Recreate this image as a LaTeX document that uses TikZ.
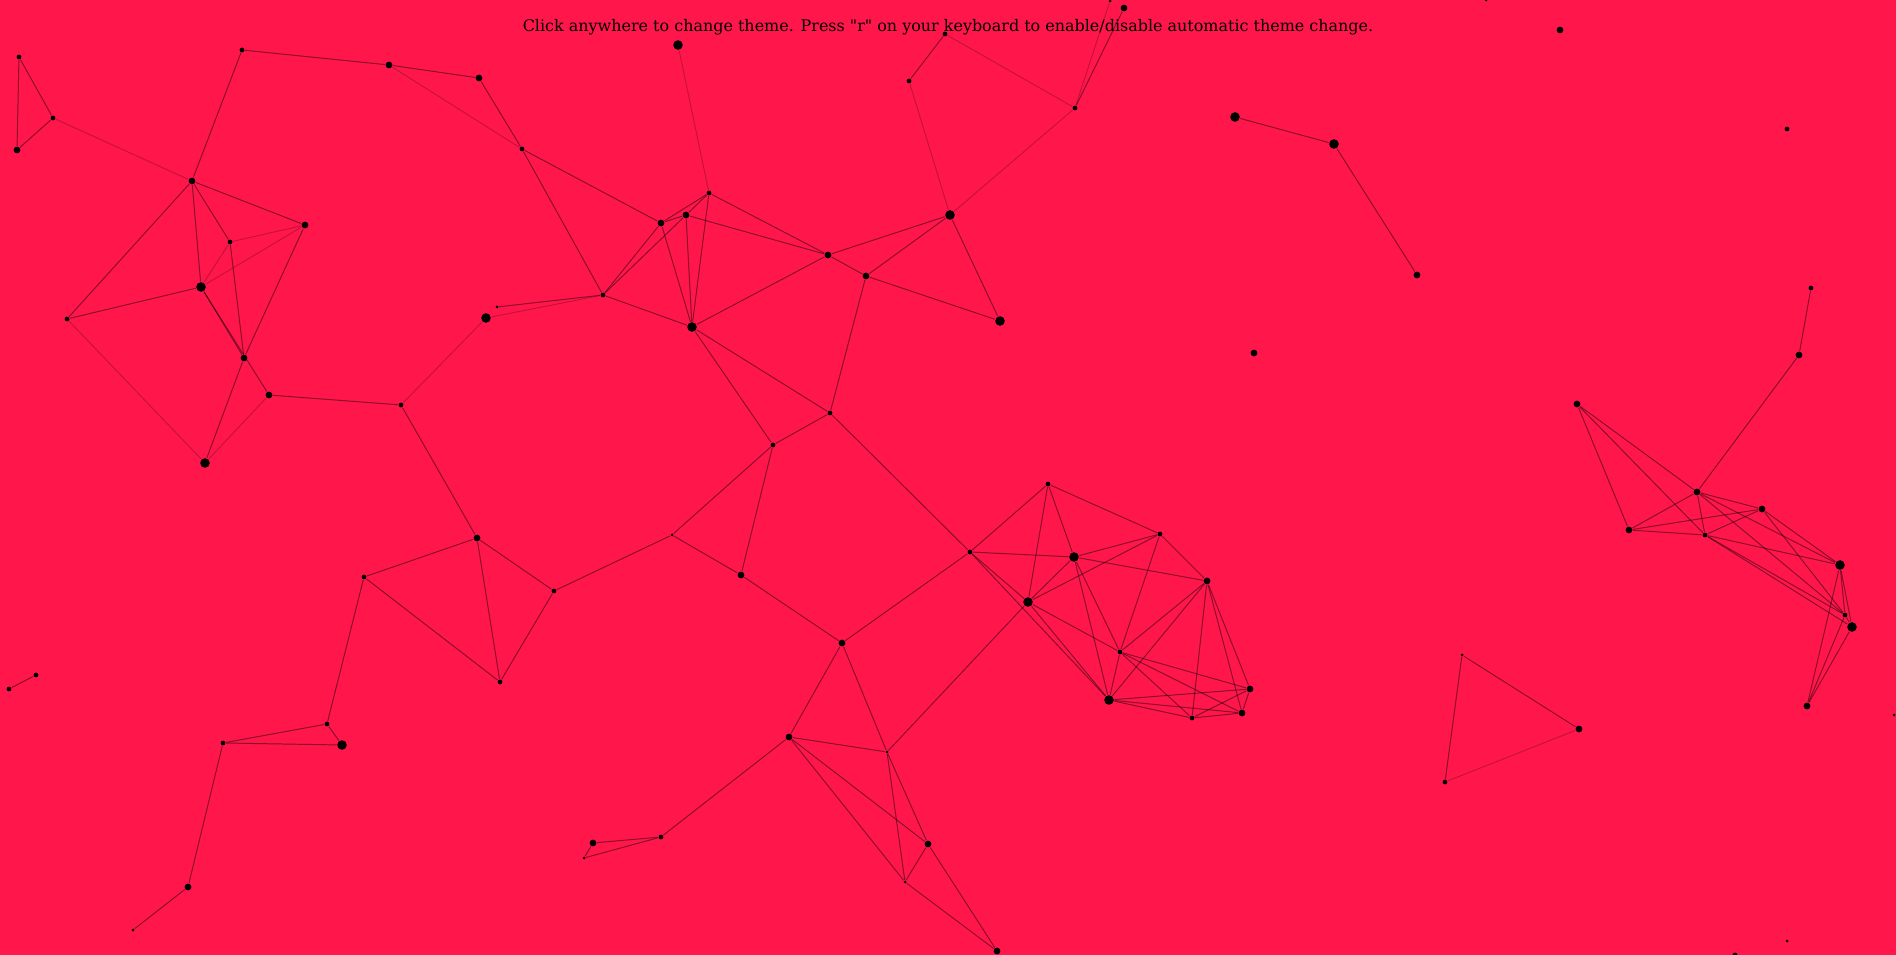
\documentclass[tikz,border=0pt]{standalone}
\usepackage{fontspec}
\usepackage{graphicx}
\usepackage{xcolor}
\usepackage{tikz}
\newfontfamily\notefont{DejaVu Serif}
\definecolor{themered}{RGB}{255,23,76}

\begin{document}
\begin{tikzpicture}[x=0.01cm,y=-0.01cm,
  tinydot/.style={circle,fill=black,inner sep=0pt,minimum size=0.03cm},
  smalldot/.style={circle,fill=black,inner sep=0pt,minimum size=0.048cm},
  middot/.style={circle,fill=black,inner sep=0pt,minimum size=0.068cm},
  bigdot/.style={circle,fill=black,inner sep=0pt,minimum size=0.096cm},
  link/.style={draw=black,draw opacity=0.45,line width=0.28pt},
  faintlink/.style={draw=black,draw opacity=0.22,line width=0.28pt}]
  % background
  \fill[themered] (0,0) rectangle (1896,955);
  \useasboundingbox (0,0) rectangle (1896,955);
  % particles
  \foreach \n/\x/\y in {n19/497/307, n34/1110/1, n43/1486/0, q1/1462/655, q5/1787/941,
      q6/1894/715, p4/672/535, p16/133/930, p18/887/752, p21/584/858, p23/905/882}
    \node[tinydot] (\n) at (\x,\y) {};
  \foreach \n/\x/\y in {n1/19/57, n2/53/118, n4/242/50, n8/522/149, n10/230/242,
      n12/67/319, n15/401/405, n20/603/295, n25/709/193, n30/909/81, n31/945/34,
      n32/1075/108, n37/830/413, n38/773/445, n44/1787/129, n45/1811/288,
      n51/1705/535, n53/1845/615, q3/1445/782, q4/1735/955, m1/1048/484,
      m2/970/552, m4/1160/534, m7/1120/652, m10/1192/718, p2/364/577, p3/554/591,
      p6/500/682, p10/36/675, p11/9/689, p12/327/724, p13/223/743, p19/661/837}
    \node[smalldot] (\n) at (\x,\y) {};
  \foreach \n/\x/\y in {n3/17/150, n5/192/181, n6/389/65, n7/479/78, n9/305/225,
      n13/244/358, n14/269/395, n17/477/538, n21/661/223, n22/686/215, n26/828/255,
      n27/866/276, n33/1124/8, n36/1254/353, n41/1417/275, n42/1560/30,
      n46/1799/355, n47/1577/404, n48/1697/492, n49/1762/509, n50/1629/530,
      n55/1807/706, n56/1579/729, m6/1207/581, m9/1250/689, m11/1242/713,
      p5/741/575, p7/842/643, p15/188/887, p17/789/737, p20/593/843, p22/928/844,
      p24/997/951}
    \node[middot] (\n) at (\x,\y) {};
  \foreach \n/\x/\y in {n11/201/287, n16/205/463, n18/486/318, n23/692/327,
      n24/678/45, n28/950/215, n29/1000/321, n35/1235/117, n40/1334/144,
      n52/1840/565, n54/1852/627, m3/1074/557, m5/1028/602, m8/1109/700, p14/342/745}
    \node[bigdot] (\n) at (\x,\y) {};
  % links
  \foreach \a/\b in {n1/n3, n1/n2, n2/n3, n4/n5, n4/n6, n6/n7, n7/n8, n5/n9,
      n5/n10, n5/n11, n5/n12, n10/n13, n11/n12, n11/n13, n11/n14, n9/n13, n13/n16,
      n14/n15, n15/n17, n19/n20, n8/n20, n8/n21, n20/n21, n20/n22, n20/n23,
      n21/n22, n21/n23, n22/n23, n25/n21, n25/n22, n25/n23, n25/n26, n22/n26,
      n23/n26, n23/n37, n23/n38, n26/n28, n26/n27, n27/n28, n27/n29, n28/n29,
      n27/n37, n37/n38, n37/m2, n30/n31, n32/n33, n35/n40, n40/n41}
    \draw[link] (\a) -- (\b);
  \foreach \a/\b in {n2/n5, n6/n8, n10/n9, n11/n9, n10/n11, n12/n16, n14/n16,
      n15/n18, n18/n20, n24/n25, n28/n30, n31/n32, n32/n28, n32/n34, n56/q3}
    \draw[faintlink] (\a) -- (\b);
  \foreach \a/\b in {m2/m1, m2/m3, m2/m5, m2/m8, m1/m3, m1/m5, m1/m4, m3/m4,
      m3/m5, m3/m6, m3/m7, m3/m8, m4/m5, m4/m6, m4/m7, m5/m7, m5/m8, m6/m7,
      m6/m8, m6/m9, m6/m10, m6/m11, m7/m8, m7/m9, m7/m10, m7/m11, m8/m9, m8/m10,
      m8/m11, m9/m10, m9/m11, m10/m11}
    \draw[link] (\a) -- (\b);
  \foreach \a/\b in {n17/p2, n17/p3, n17/p6, p2/p6, p2/p12, p3/p6, p3/p4,
      p4/n38, p5/n38, p4/p5, p5/p7, p7/m2, p7/p17, p7/p18, m5/p18, p10/p11,
      p12/p13, p12/p14, p13/p14, p13/p15, p15/p16, p17/p18, p17/p19, p17/p22,
      p17/p23, p18/p22, p18/p23, p19/p20, p19/p21, p20/p21, p22/p23, p22/p24,
      p23/p24}
    \draw[link] (\a) -- (\b);
  \foreach \a/\b in {n45/n46, n46/n48, n47/n48, n47/n50, n47/n51, n48/n49,
      n48/n50, n48/n51, n48/n52, n48/n53, n49/n50, n49/n51, n49/n52, n49/n53,
      n50/n51, n51/n52, n51/n53, n51/n54, n52/n53, n52/n54, n52/n55, n53/n54,
      n53/n55, n54/n55, q1/n56, q1/q3}
    \draw[link] (\a) -- (\b);
  % hint
  \node[inner sep=0pt] (hint) at (948,27)
    {\resizebox{8.5cm}{!}{\notefont Click anywhere to change theme. Press "r" on your keyboard to enable/disable automatic theme change.}};
\end{tikzpicture}
\end{document}
